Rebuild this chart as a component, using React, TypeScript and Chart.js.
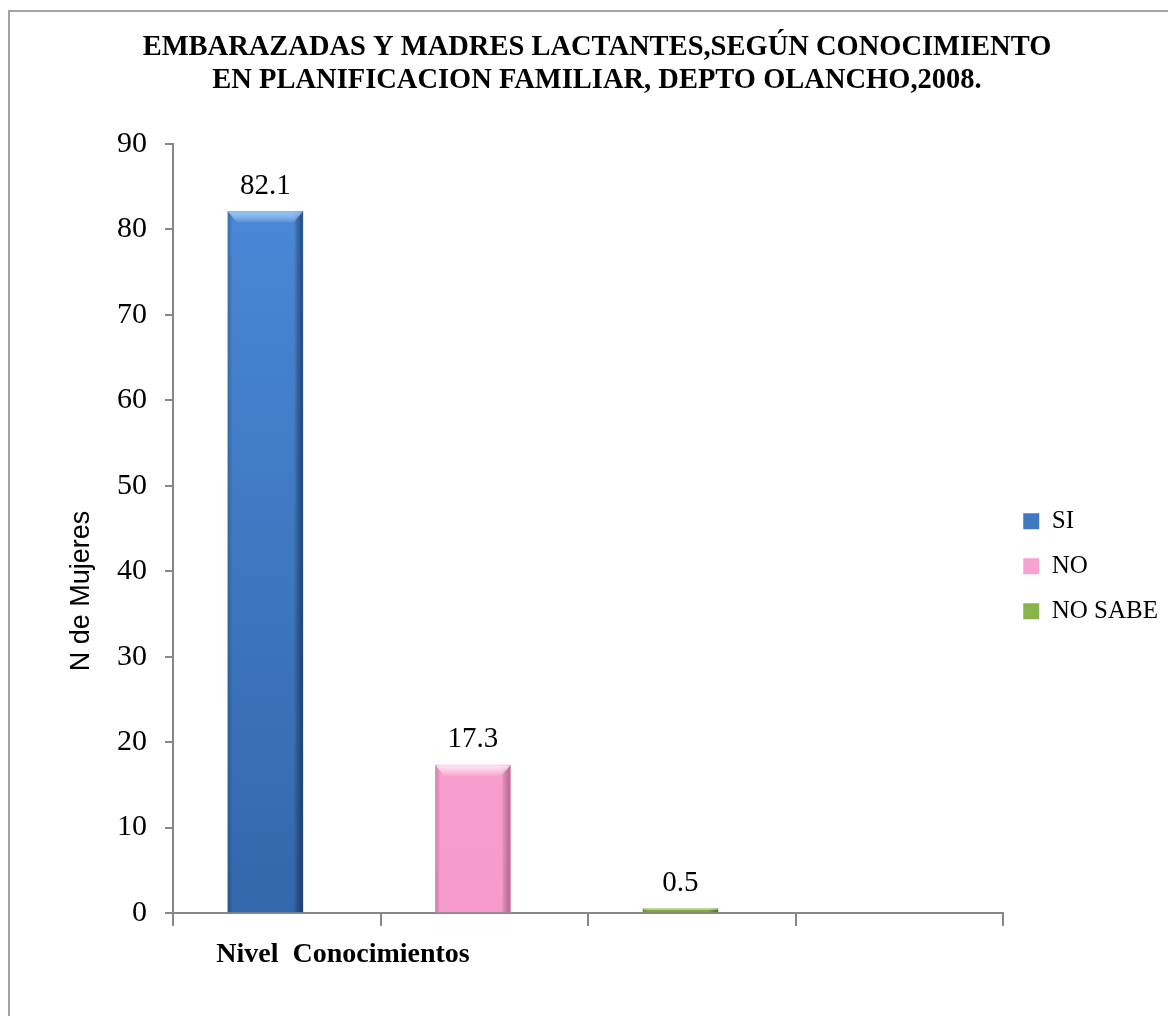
import { useEffect, useRef } from "react";
import { Chart, registerables } from "chart.js";

Chart.register(...registerables);

const TITLE_LINES = [
  "EMBARAZADAS Y MADRES LACTANTES,SEGÚN CONOCIMIENTO",
  "EN PLANIFICACION FAMILIAR, DEPTO OLANCHO,2008.",
];
const CATEGORY_SLOTS = ["", "", "", ""];
const SERIES_NAMES = ["SI", "NO", "NO SABE"];
const SI_VALUES = [82.1, null, null, null];
const NO_VALUES = [null, 17.3, null, null];
const NO_SABE_VALUES = [null, null, 0.5, null];
const Y_MIN = 0;
const Y_MAX = 90;
const Y_STEP = 10;
const Y_AXIS_TITLE = "N de Mujeres";
const X_AXIS_TITLE = "Nivel  Conocimientos";

const SERIF = "'Liberation Serif', 'Times New Roman', serif";
const SANS = "'Liberation Sans', Arial, sans-serif";
const AXIS_GRAY = "#878787";
// the bars sit slightly left of the category centres in the original
const BAR_SHIFT = 0.445;

const SERIES_STYLES = [
  { solid: "#3f7dca", top: "#4b8bd9", bottom: "#3367ab", edge: "rgba(14,36,74,0.6)", shine: "rgba(160,210,255,0.8)" },
  { solid: "#fba2d3", top: "#fda9d8", bottom: "#f69bcc", edge: "rgba(120,40,80,0.45)", shine: "rgba(255,240,250,0.9)" },
  { solid: "#8db84a", top: "#9cc757", bottom: "#7fa840", edge: "rgba(50,70,20,0.5)", shine: "rgba(225,250,170,0.85)" },
];

const framePlugin = {
  id: "frame",
  beforeDraw(chart: any) {
    const { ctx } = chart;
    ctx.save();
    ctx.strokeStyle = "#a3a3a3";
    ctx.lineWidth = 2;
    ctx.strokeRect(1, 3, chart.width + 40, chart.height + 40);
    ctx.restore();
  },
};

const barShadePlugin = {
  id: "barShade",
  afterDatasetsDraw(chart: any) {
    const { ctx } = chart;
    ctx.save();
    chart.data.datasets.forEach((ds: any, i: number) => {
      const meta = chart.getDatasetMeta(i);
      if (meta.hidden) return;
      const st = SERIES_STYLES[i];
      meta.data.forEach((el: any) => {
        const { x, y, base, width } = el.getProps(["x", "y", "base", "width"], true);
        const left = x - width / 2;
        const right = x + width / 2;
        const h = base - y;
        if (h <= 0) return;
        let g = ctx.createLinearGradient(right - 9, 0, right, 0);
        g.addColorStop(0, "rgba(0,0,0,0)");
        g.addColorStop(1, st.edge);
        ctx.fillStyle = g;
        ctx.fillRect(right - 9, y, 9, h);
        g = ctx.createLinearGradient(left, 0, left + 5, 0);
        g.addColorStop(0, "rgba(0,0,0,0.18)");
        g.addColorStop(1, "rgba(0,0,0,0)");
        ctx.fillStyle = g;
        ctx.fillRect(left, y, 5, h);
        const bh = Math.min(11, h * 0.5);
        const inset = Math.min(9, bh);
        g = ctx.createLinearGradient(0, y, 0, y + bh);
        g.addColorStop(0, st.shine);
        g.addColorStop(1, "rgba(255,255,255,0.05)");
        ctx.fillStyle = g;
        ctx.beginPath();
        ctx.moveTo(left, y);
        ctx.lineTo(right, y);
        ctx.lineTo(right - inset, y + bh);
        ctx.lineTo(left + inset, y + bh);
        ctx.closePath();
        ctx.fill();
      });
    });
    ctx.restore();
  },
};

const valueLabelPlugin = {
  id: "valueLabels",
  afterDatasetsDraw(chart: any) {
    const { ctx } = chart;
    ctx.save();
    ctx.font = `29px ${SERIF}`;
    ctx.fillStyle = "#000";
    ctx.textAlign = "center";
    ctx.textBaseline = "alphabetic";
    chart.data.datasets.forEach((ds: any, i: number) => {
      const meta = chart.getDatasetMeta(i);
      if (meta.hidden) return;
      meta.data.forEach((el: any, j: number) => {
        const pt = ds.data[j];
        if (!pt || pt.y == null) return;
        const { x, y } = el.getProps(["x", "y"], true);
        ctx.fillText(String(pt.y), x, y - 18);
      });
    });
    ctx.restore();
  },
};

const axisTitlePlugin = {
  id: "axisTitles",
  afterDraw(chart: any) {
    const { ctx, chartArea } = chart;
    ctx.save();
    ctx.fillStyle = "#000";
    ctx.textAlign = "center";
    ctx.textBaseline = "middle";
    ctx.font = `27px ${SANS}`;
    ctx.translate(chartArea.left - 91, chartArea.bottom - 322);
    ctx.rotate(-Math.PI / 2);
    ctx.fillText(Y_AXIS_TITLE, 0, 0);
    ctx.restore();
    ctx.save();
    ctx.fillStyle = "#000";
    ctx.textAlign = "center";
    ctx.textBaseline = "middle";
    ctx.font = `bold 28px ${SERIF}`;
    ctx.fillText(X_AXIS_TITLE, chartArea.left + 170, chartArea.bottom + 42);
    ctx.restore();
  },
};

function fillFor(i: number) {
  const st = SERIES_STYLES[i];
  return (c: any) => {
    if (c.type !== "data") return st.solid;
    const area = c.chart.chartArea;
    if (!area) return st.solid;
    const g = c.chart.ctx.createLinearGradient(0, area.top, 0, area.bottom);
    g.addColorStop(0, st.top);
    g.addColorStop(1, st.bottom);
    return g;
  };
}

function toPoints(values: (number | null)[]) {
  return values
    .map((v, i) => (v == null ? null : { x: i, y: v }))
    .filter((p) => p !== null);
}

export default function App() {
  const canvasRef = useRef<HTMLCanvasElement | null>(null);

  useEffect(() => {
    if (!canvasRef.current) return;
    const seriesValues = [SI_VALUES, NO_VALUES, NO_SABE_VALUES];
    const chart = new Chart(canvasRef.current, {
      type: "bar",
      data: {
        labels: CATEGORY_SLOTS,
        datasets: SERIES_NAMES.map((name, i) => ({
          label: name,
          data: toPoints(seriesValues[i]),
          xAxisID: "xb",
          yAxisID: "y",
          backgroundColor: fillFor(i),
          borderWidth: 0,
          grouped: false,
          barThickness: 75,
        })),
      },
      options: {
        responsive: false,
        maintainAspectRatio: false,
        animation: false,
        events: [],
        layout: { padding: { left: 18, right: 0, top: 0, bottom: 0 } },
        scales: {
          x: {
            type: "category",
            position: "bottom",
            offset: true,
            grid: {
              offset: true,
              drawOnChartArea: false,
              drawTicks: true,
              tickLength: 13,
              color: AXIS_GRAY,
              lineWidth: 2,
            },
            border: { display: true, color: AXIS_GRAY, width: 2 },
            ticks: { display: false },
            afterFit: (s: any) => {
              s.height = 103;
            },
          },
          xb: {
            type: "linear",
            position: "bottom",
            display: false,
            offset: false,
            min: -BAR_SHIFT,
            max: CATEGORY_SLOTS.length - BAR_SHIFT,
            ticks: { count: 2 },
          },
          y: {
            min: Y_MIN,
            max: Y_MAX,
            ticks: {
              stepSize: Y_STEP,
              color: "#000",
              padding: 18,
              font: { family: SERIF, size: 30 },
            },
            grid: {
              drawOnChartArea: false,
              drawTicks: true,
              tickLength: 8,
              color: AXIS_GRAY,
              lineWidth: 2,
            },
            border: { display: true, color: AXIS_GRAY, width: 2 },
            afterFit: (s: any) => {
              s.width = 147;
            },
          },
        },
        plugins: {
          title: {
            display: true,
            text: TITLE_LINES,
            color: "#000",
            font: { family: SERIF, size: 28.5, weight: "bold", lineHeight: 33 / 28.5 },
            padding: { top: 23.5, bottom: 46.5 },
          },
          legend: {
            display: true,
            position: "right",
            align: "center",
            title: {
              display: true,
              text: "",
              font: { size: 12, lineHeight: 1.2 },
              padding: { top: 0, bottom: 94 },
            },
            labels: {
              boxWidth: 16,
              boxHeight: 16,
              padding: 20,
              color: "#000",
              font: { family: SERIF, size: 25 },
            },
          },
          tooltip: { enabled: false },
        },
      },
      plugins: [framePlugin, barShadePlugin, valueLabelPlugin, axisTitlePlugin],
    } as any);
    return () => chart.destroy();
  }, []);

  return (
    <div>
      <canvas ref={canvasRef} width={1160} height={1008} style={{ display: "block" }} />
    </div>
  );
}
